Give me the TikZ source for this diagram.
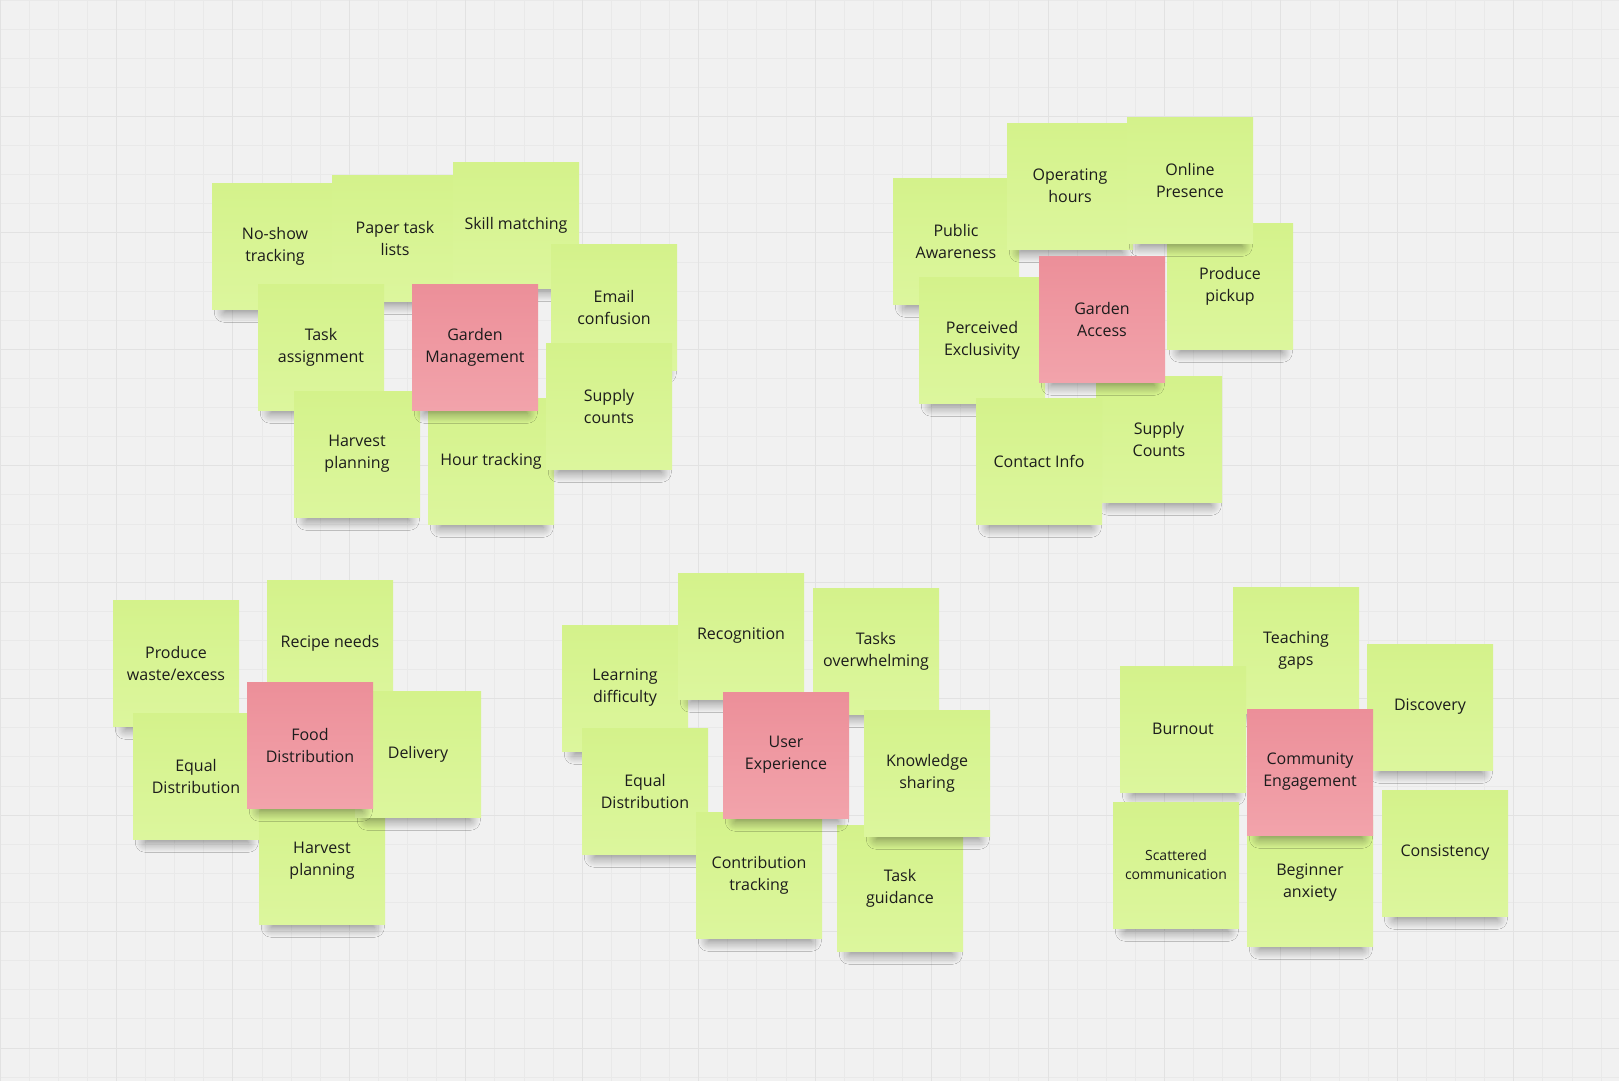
\documentclass[tikz,border=0pt]{standalone}
\usepackage{fontspec}
\setmainfont{Open Sans}
\usetikzlibrary{shadows.blur}

\definecolor{canvasbg}{HTML}{F1F1F1}
\definecolor{gridfine}{HTML}{E9E9E9}
\definecolor{gridbold}{HTML}{E2E2E2}
\definecolor{stickytop}{HTML}{D4F28B}
\definecolor{stickybot}{HTML}{DCF69D}
\definecolor{accenttop}{HTML}{EC8F99}
\definecolor{accentbot}{HTML}{F2A3AB}
\definecolor{inktext}{HTML}{1C1C1C}

\tikzset{
  sticky/.style={minimum width=126pt, minimum height=126pt, inner sep=0pt, align=center,
    font=\fontsize{16}{22}\selectfont, text=inktext, top color=stickytop, bottom color=stickybot,
    blur shadow={shadow xshift=1pt, shadow yshift=-18pt, shadow scale=0.82,
      shadow opacity=45, shadow blur radius=12pt, shadow blur steps=14}},
  theme/.style={sticky, top color=accenttop, bottom color=accentbot},
  finegrid/.style={gridfine, line width=0.8pt},
  boldgrid/.style={gridbold, line width=1pt}
}

\begin{document}
\begin{tikzpicture}[x=1pt, y=-1pt]
    \useasboundingbox (0,0) rectangle (1619,1081);
    \fill[canvasbg] (0,0) rectangle (1619,1081);
    \foreach \i in {0,...,55}
      \draw[finegrid] ({\i*29.11},0) -- ({\i*29.11},1081);
    \foreach \j in {0,...,37}
      \draw[finegrid] (0,{\j*29.11}) -- (1619,{\j*29.11});
    \foreach \i in {0,...,13}
      \draw[boldgrid] ({\i*116.45},0) -- ({\i*116.45},1081);
    \foreach \j in {0,...,9}
      \draw[boldgrid] (0,{\j*116.45}) -- (1619,{\j*116.45});

    \node[sticky] (noshow) at (275,246) {No-show\\tracking};
    \node[sticky] (papertasks) at (395,238) {Paper task\\lists};
    \node[sticky] (skillmatch) at (516,225) {Skill matching};
    \node[sticky] (emailconf) at (614,307) {Email\\confusion};
    \node[sticky] (taskassign) at (321,347) {Task\\assignment};
    \node[sticky] (harvestplan) at (357,454) {Harvest\\planning};
    \node[sticky] (hourtrack) at (491,461) {Hour tracking};
    \node[sticky] (supplycounts) at (609,406) {Supply\\counts};
    \node[theme] (gardenmgmt) at (475,347) {Garden\\Management};

    \node[sticky] (awareness) at (956,241) {Public\\Awareness};
    \node[sticky] (ophours) at (1070,186) {Operating\\hours};
    \node[sticky] (pickup) at (1230,286) {Produce\\pickup};
    \node[sticky] (online) at (1190,180) {Online\\Presence};
    \node[sticky] (exclusivity) at (982,340) {Perceived\\Exclusivity};
    \node[sticky] (supplyCounts) at (1159,439) {Supply\\Counts};
    \node[sticky] (contact) at (1039,461) {Contact Info};
    \node[theme] (gardenaccess) at (1102,319) {Garden\\Access};

    \node[sticky] (wasteexcess) at (176,663) {Produce\\waste/excess};
    \node[sticky] (recipe) at (330,643) {Recipe needs};
    \node[sticky] (equaldist) at (196,776) {Equal\\Distribution};
    \node[sticky] (harvestplanb) at (322,861) {Harvest\\planning};
    \node[sticky] (delivery) at (418,754) {Delivery};
    \node[theme] (fooddist) at (310,745) {Food\\Distribution};

    \node[sticky] (learning) at (625,688) {Learning\\difficulty};
    \node[sticky] (recognition) at (741,636) {Recognition};
    \node[sticky] (overwhelm) at (876,651) {Tasks\\overwhelming};
    \node[sticky] (equaldistb) at (645,791) {Equal\\Distribution};
    \node[sticky] (contribution) at (759,875) {Contribution\\tracking};
    \node[sticky] (guidance) at (900,888) {Task\\guidance};
    \node[sticky] (knowledge) at (927,773) {Knowledge\\sharing};
    \node[theme] (userexp) at (786,755) {User\\Experience};

    \node[sticky] (teaching) at (1296,650) {Teaching\\gaps};
    \node[sticky] (burnout) at (1183,729) {Burnout};
    \node[sticky] (discovery) at (1430,707) {Discovery};
    \node[sticky, font=\fontsize{14}{19}\selectfont] (scattered) at (1176,865) {Scattered\\communication};
    \node[sticky] (beginner) at (1310,883) {Beginner\\anxiety};
    \node[sticky] (consistency) at (1445,853) {Consistency};
    \node[theme] (community) at (1310,772) {Community\\Engagement};
\end{tikzpicture}
\end{document}
